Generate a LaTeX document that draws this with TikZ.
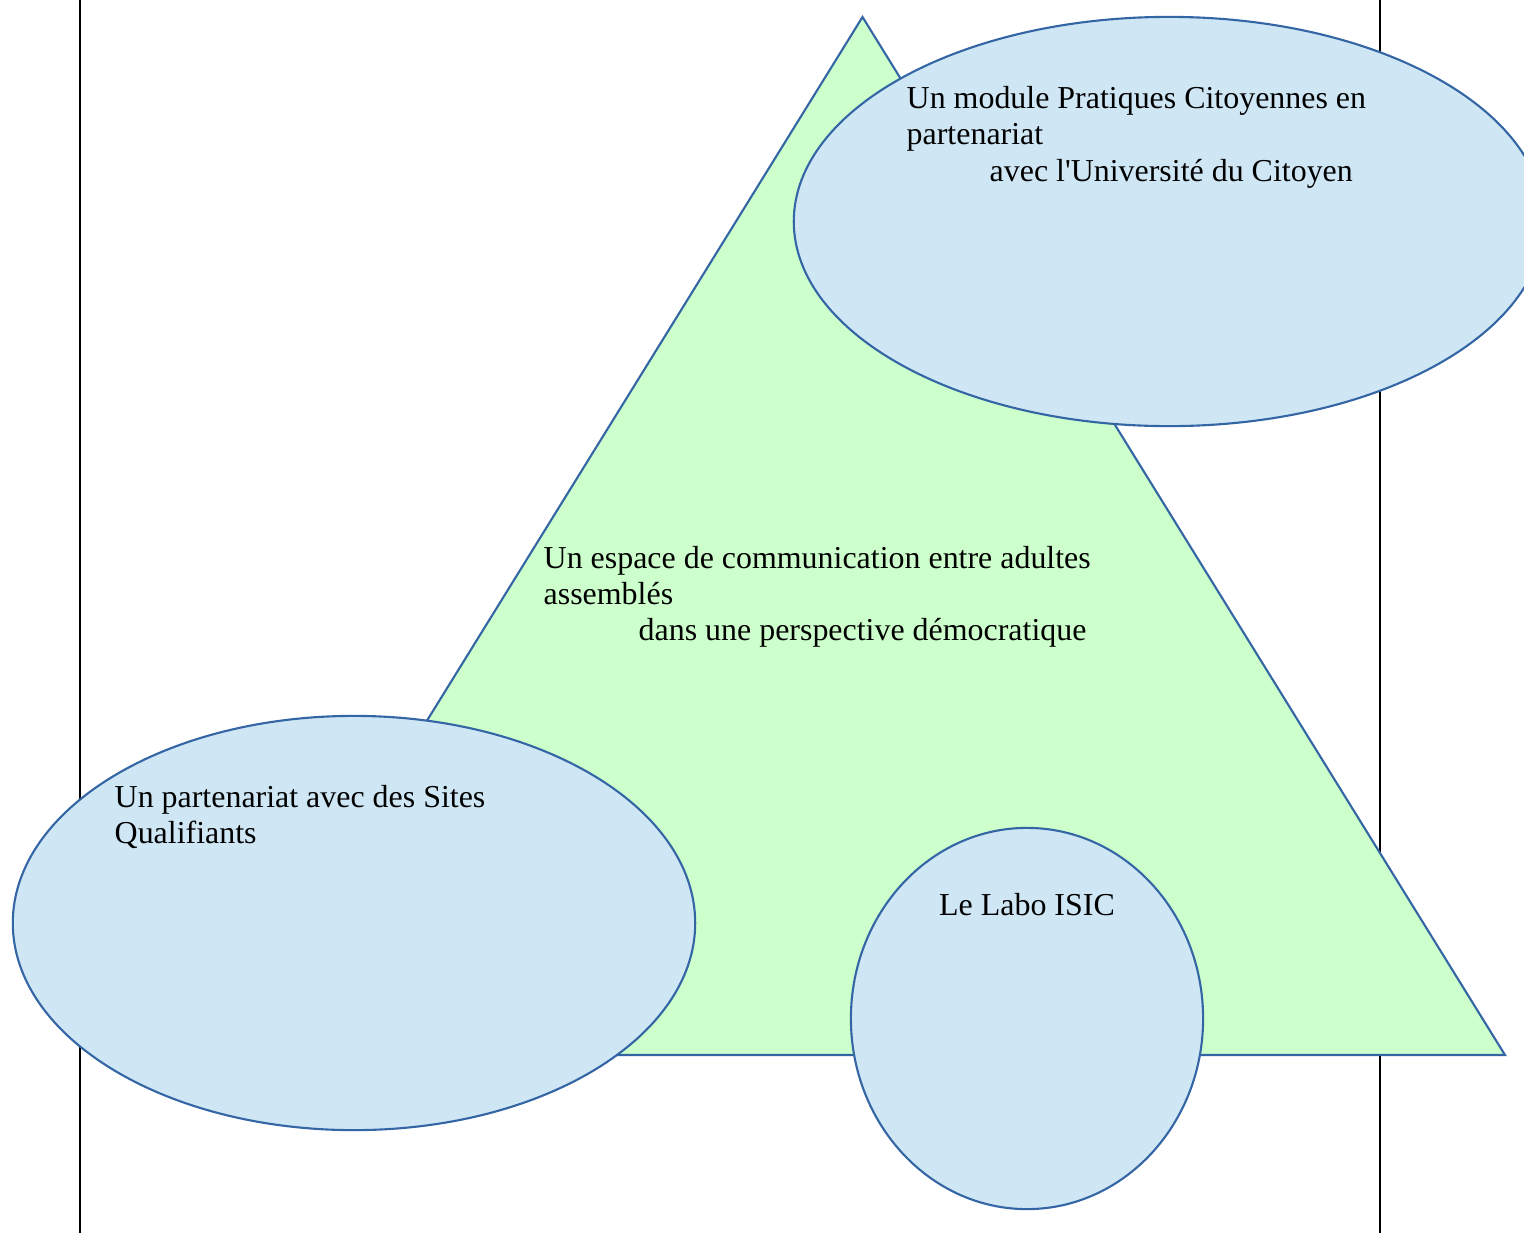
\documentclass[tikz,border=0pt]{standalone}
\usepackage{fontspec}
\setmainfont{Liberation Serif}
\usepackage{tikz}
\usetikzlibrary{shapes.geometric}
\definecolor{contourbleu}{HTML}{3465A4}
\definecolor{fondvert}{HTML}{CCFFCC}
\definecolor{fondbleu}{HTML}{CFE7F5}
\tikzset{
    schemacontour/.style={draw=contourbleu, line width=0.6pt},
    schemaellipse/.style={schemacontour, fill=fondbleu, ellipse, inner sep=0pt},
    schematexte/.style={anchor=base west, inner sep=0pt, font=\fontsize{9.08}{10.4}\selectfont},
    schemamarge/.style={draw=black, line width=0.35pt}
}

\begin{document}
\begin{tikzpicture}[x=0.01cm, y=-0.01cm]
        \useasboundingbox (0,0) rectangle (1524,1233);
        % marges
        \coordinate (margeGhaut) at (80,0);
        \coordinate (margeGbas) at (80,1233);
        \coordinate (margeDhaut) at (1380,0);
        \coordinate (margeDbas) at (1380,1233);
        \draw[schemamarge] (margeGhaut) -- (margeGbas);
        \draw[schemamarge] (margeDhaut) -- (margeDbas);
        % triangle
        \coordinate (sommet) at (862.5,17);
        \coordinate (baseG) at (220,1055);
        \coordinate (baseD) at (1505,1055);
        \filldraw[schemacontour, fill=fondvert] (sommet) -- (baseD) -- (baseG) -- cycle;
        \node[schematexte] (espaceA) at (543,568) {Un espace de communication entre adultes};
        \node[schematexte] (espaceB) at (543,604) {assemblés};
        \node[schematexte] (espaceC) at (638,640) {dans une perspective démocratique};
        % ellipses
        \node[schemaellipse, minimum width=7.5cm, minimum height=4.09cm] (module) at (1169,221.5) {};
        \node[schematexte] (moduleA) at (906,108) {Un module Pratiques Citoyennes en};
        \node[schematexte] (moduleB) at (906,144.5) {partenariat};
        \node[schematexte] (moduleC) at (989,181) {avec l\textquotesingle Université du Citoyen};
        \node[schemaellipse, minimum width=6.82cm, minimum height=4.14cm] (sites) at (354,923) {};
        \node[schematexte] (sitesA) at (114,807) {Un partenariat avec des Sites};
        \node[schematexte] (sitesB) at (114,843.5) {Qualifiants};
        \node[schemaellipse, minimum width=3.52cm, minimum height=3.81cm] (labo) at (1027,1018.5) {};
        \node[schematexte, anchor=base] (laboA) at (1027,915) {Le Labo ISIC};
    \end{tikzpicture}
\end{document}
